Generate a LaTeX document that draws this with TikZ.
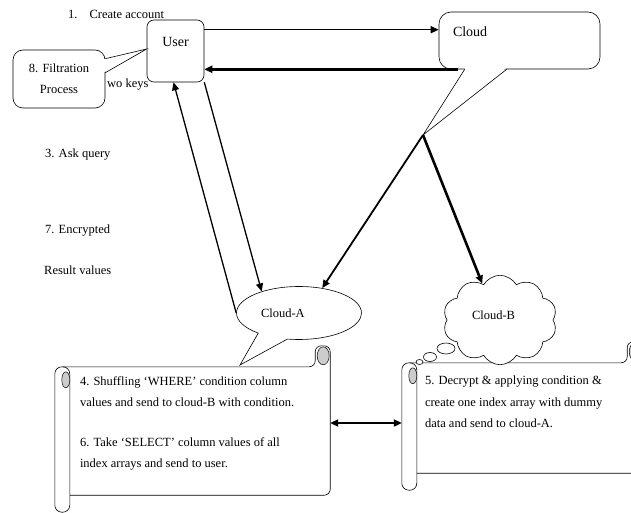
\documentclass[tikz,border=0pt]{standalone}
\usepackage{fontspec}
\setmainfont{Liberation Serif}
\usetikzlibrary{arrows.meta,positioning,shapes.callouts,shapes.symbols}

% horizontal scroll drawn round a body node
\newcommand{\hscroll}[1]{%
  \draw[fill=white, line width=0.6pt, rounded corners=7pt] ([xshift=-15pt]#1.north west) rectangle ([yshift=-17pt]#1.south west);
  \draw[line width=0.6pt, rounded corners=6pt] ([xshift=-8pt]#1.north west) -- ([xshift=-15pt]#1.north east)
    -- ([xshift=-15pt,yshift=21pt]#1.north east) -- ([yshift=21pt]#1.north east) -- (#1.south east) -- (#1.south west);
  \filldraw[fill=gray!40, line width=0.5pt] ([xshift=-4pt,yshift=-13pt]#1.north west) ellipse [x radius=4, y radius=8];
  \filldraw[fill=gray!40, line width=0.5pt] ([xshift=-7pt,yshift=11pt]#1.north east) ellipse [x radius=6, y radius=9];
}

\begin{document}
\begin{tikzpicture}[x=1pt, y=-1pt,
  box/.style={draw, fill=white, line width=0.6pt, rounded corners=10pt},
  txt/.style={font=\fontsize{12.5}{15}\selectfont, inner sep=0pt},
  bigtxt/.style={font=\fontsize{14}{16}\selectfont},
  arr/.style={-{Triangle[length=8pt,width=7pt]}, line width=1.4pt}]

% Frame
\clip (0,0) rectangle (631,513);

% Steps on the left
\node[txt, anchor=base west] (step1) at (68,19) {1.\hspace{12pt}Create account};
\node[txt, anchor=base west] (step2) at (107,88) {wo keys};
\node[txt, anchor=base west] (step3) at (45,158) {3. Ask query};
\node[txt, anchor=base west] (step7) at (45,233) {7. Encrypted};
\node[txt, anchor=base west] (step7b) at (44,274) {Result values};

% User box
\node[box, rounded corners=7pt, bigtxt, minimum width=57pt, minimum height=62pt,
  text height=21pt, text depth=29pt, inner ysep=6pt] (user) at (175.5,51) {User};

% Filtration callout
\node[box, txt, minimum width=92pt, minimum height=58pt, align=center,
  font=\fontsize{12.5}{21}\selectfont] (filt) at (59,79) {8. Filtration\\Process};
\coordinate (filttip) at ([yshift=2pt]user.west);
\fill[white] ([xshift=-1.5pt,yshift=-9.5pt]filt.north east) -- ([xshift=-1.5pt,yshift=-22.5pt]filt.north east) -- (filttip) -- cycle;
\draw[line width=0.6pt] ([yshift=-9pt]filt.north east) -- (filttip) -- ([yshift=-23pt]filt.north east);

% Cloud callout
\node[box, rounded corners=12pt, bigtxt, minimum width=161pt, minimum height=57pt, text width=133pt,
  inner xsep=14pt, inner ysep=5pt, text height=20pt, text depth=27pt, align=left] (cloud) at (519.5,40.5) {Cloud};
\coordinate (cloudtip) at (423,135);
\fill[white] ([xshift=26.5pt,yshift=1.5pt]cloud.south west) -- ([xshift=67.5pt,yshift=1.5pt]cloud.south west) -- (cloudtip) -- cycle;
\draw[line width=0.6pt] ([xshift=26pt]cloud.south west) -- (cloudtip) -- ([xshift=68pt]cloud.south west);

% Scrolls
\node[minimum width=260pt, minimum height=128pt, inner sep=0pt] (scrolla) at (200,431) {};
\hscroll{scrolla}
\node[txt, font=\fontsize{12.5}{21}\selectfont, align=left, below right=10pt and 10pt of scrolla.north west] (texta)
  {4. Shuffling ‘WHERE’ condition column\\values and send to cloud-B with condition.\\[19pt]6. Take ‘SELECT’ column values of all\\index arrays and send to user.};

\node[minimum width=225pt, minimum height=110pt, inner sep=0pt] (scrollb) at (529.5,418) {};
\hscroll{scrollb}
\node[txt, font=\fontsize{12.5}{21.5}\selectfont, align=left, below right=13pt and 8pt of scrollb.north west] (textb)
  {5. Decrypt \& applying condition \&\\create one index array with dummy\\data and send to cloud-A.};

% Cloud-A and Cloud-B
\coordinate (atip) at (240,365);
\node[ellipse callout, draw, fill=white, line width=0.6pt, txt, minimum width=125pt, minimum height=53pt,
  text width=76pt, align=left, callout absolute pointer=(atip), callout pointer arc=30] (clouda) at (299,313) {Cloud-A};
\node[cloud, draw, fill=white, line width=0.6pt, txt, cloud puffs=10, cloud puff arc=120,
  minimum width=114pt, minimum height=68pt, text width=56pt, text depth=10pt, align=left] (cloudb) at (500,320) {Cloud-B};
\foreach \cx/\cy/\rx/\ry in {446/348.5/9/5.5, 430/357/6.5/4.5, 419.5/362/3.5/2.5}
  \draw[fill=white, line width=0.6pt] (\cx,\cy) ellipse [x radius=\rx, y radius=\ry];

% Connectors
\coordinate (u1) at ([yshift=-10pt]user.north east);
\draw[arr, line width=1.6pt] (u1) -- (u1 -| cloud.west);
\coordinate (c1) at ([xshift=19pt]cloud.south west);
\draw[arr, line width=3pt] (c1) -- (c1 -| user.east);
\draw[arr, line width=1.3pt] (clouda.west) -- ([xshift=-2pt]user.south);
\draw[arr, line width=1.3pt] (user.south east) -- (clouda.150);
\draw[arr, line width=1.8pt] (cloudtip) -- (clouda.47);
\draw[arr, line width=2.6pt] (cloudtip) -- (cloudb.116);
\coordinate (a1) at ([yshift=8pt]scrolla.east);
\coordinate (b1) at ([xshift=-15pt]scrollb.west);
\draw[{Triangle[length=8pt,width=7pt]}-{Triangle[length=8pt,width=7pt]}, line width=2pt] (a1) -- (a1 -| b1);

\end{tikzpicture}
\end{document}
